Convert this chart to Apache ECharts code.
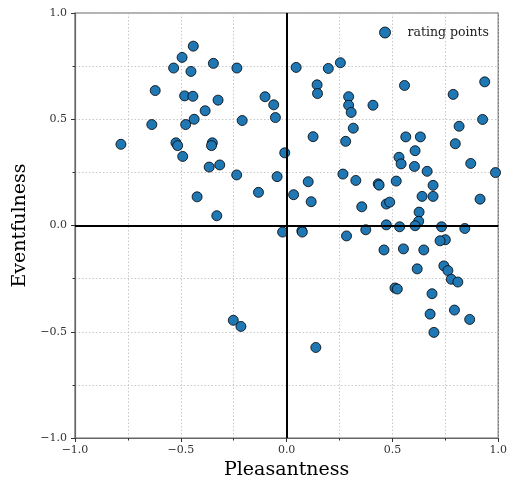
<!DOCTYPE html>
<html><head><meta charset="utf-8">
<script src="https://cdn.jsdelivr.net/npm/echarts@6/dist/echarts.min.js"></script>
<style>html,body{margin:0;padding:0;background:#fff}#c{width:510px;height:486px}</style>
</head><body><div id="c"></div>
<script>
const pleasantness = [-0.441,-0.494,-0.346,-0.534,-0.452,-0.235,-0.621,-0.482,-0.443,-0.324,-0.102,-0.061,-0.385,-0.053,-0.637,-0.477,-0.437,-0.210,-0.783,-0.523,-0.515,-0.351,-0.355,-0.009,-0.491,-0.366,-0.316,-0.236,-0.045,-0.133,-0.423,-0.330,-0.019,
0.045,0.197,0.254,0.144,0.146,0.293,0.293,0.305,0.408,0.557,0.787,0.936,0.926,0.815,0.797,0.315,0.125,0.279,0.563,0.632,0.607,0.531,0.541,0.604,0.664,0.870,0.987,0.266,0.327,0.102,0.433,0.437,0.518,0.692,0.692,0.640,0.033,0.116,0.355,0.471,0.487,0.914,0.626,0.624,
0.072,0.074,0.283,0.374,0.471,0.534,0.607,0.732,0.842,0.750,0.725,0.460,0.552,0.648,0.617,0.743,0.762,0.778,0.809,0.512,0.523,0.687,0.678,0.793,0.865,0.696,0.138,-0.252,-0.216];
const eventfulness = [0.844,0.791,0.763,0.741,0.725,0.741,0.635,0.610,0.608,0.590,0.606,0.568,0.540,0.508,0.475,0.475,0.500,0.494,0.382,0.389,0.376,0.389,0.376,0.342,0.325,0.275,0.285,0.238,0.230,0.156,0.135,0.046,-0.031,
0.744,0.739,0.766,0.662,0.621,0.606,0.566,0.532,0.566,0.659,0.617,0.676,0.499,0.467,0.385,0.458,0.418,0.396,0.417,0.417,0.352,0.321,0.290,0.278,0.255,0.292,0.249,0.242,0.212,0.206,0.196,0.190,0.209,0.189,0.137,0.137,0.145,0.112,0.088,0.101,0.110,0.124,0.063,0.020,
-0.025,-0.031,-0.049,-0.020,0.003,-0.006,-0.001,-0.006,-0.014,-0.067,-0.072,-0.115,-0.110,-0.115,-0.204,-0.190,-0.212,-0.253,-0.266,-0.294,-0.299,-0.321,-0.417,-0.398,-0.442,-0.503,-0.574,-0.446,-0.475];
const seriesName = 'rating points';
const xLabel = 'Pleasantness';
const yLabel = 'Eventfulness';

const points = pleasantness.map((p, i) => [p, eventfulness[i]]);
const font = 'DejaVu Serif';
const fmt = v => (v < 0 ? '\u2212' : '') + Math.abs(v).toFixed(1);
function axis(name, gap, margin) {
  return {
    type: 'value', min: -1, max: 1, interval: 0.5,
    name: name, nameLocation: 'middle', nameGap: gap,
    nameTextStyle: {fontFamily: font, fontSize: 19, color: '#000'},
    axisLine: {show: true, onZero: false, lineStyle: {color: '#666', width: 1.2}},
    axisTick: {show: true, length: 4, lineStyle: {color: '#333'}},
    minorTick: {show: true, splitNumber: 2, length: 2.5, lineStyle: {color: '#333'}},
    axisLabel: {fontFamily: font, fontSize: 11, color: '#333', formatter: fmt, margin: margin},
    splitLine: {show: true, lineStyle: {color: '#bbb', type: [1.5, 2], width: 0.8}},
    minorSplitLine: {show: true, lineStyle: {color: '#bbb', type: [1.5, 2], width: 0.8}}
  };
}
const chart = echarts.init(document.getElementById('c'), null, {renderer: 'canvas'});
chart.setOption({
  animation: false,
  backgroundColor: '#fff',
  grid: {left: 75, right: 9, top: 13, bottom: 48, show: true, borderColor: '#666', borderWidth: 1.2, backgroundColor: 'transparent'},
  legend: {
    data: [seriesName], right: 16, top: 21, icon: 'circle', itemWidth: 11, itemHeight: 11,
    textStyle: {fontFamily: font, fontSize: 12.5, color: '#222', padding: [0, 0, 0, 12]},
    itemStyle: {borderColor: '#000', borderWidth: 0.8}
  },
  xAxis: axis(xLabel, 22, 7),
  yAxis: axis(yLabel, 42, 8),
  series: [{
    name: seriesName, type: 'scatter', data: points, symbolSize: 10,
    itemStyle: {color: '#1f77b4', borderColor: '#000', borderWidth: 0.8, opacity: 1},
    markLine: {
      silent: true, symbol: 'none', label: {show: false}, animation: false,
      lineStyle: {color: '#000', width: 2, type: 'solid'},
      data: [{xAxis: 0}, {yAxis: 0}]
    },
    z: 3
  }]
});
</script></body></html>
